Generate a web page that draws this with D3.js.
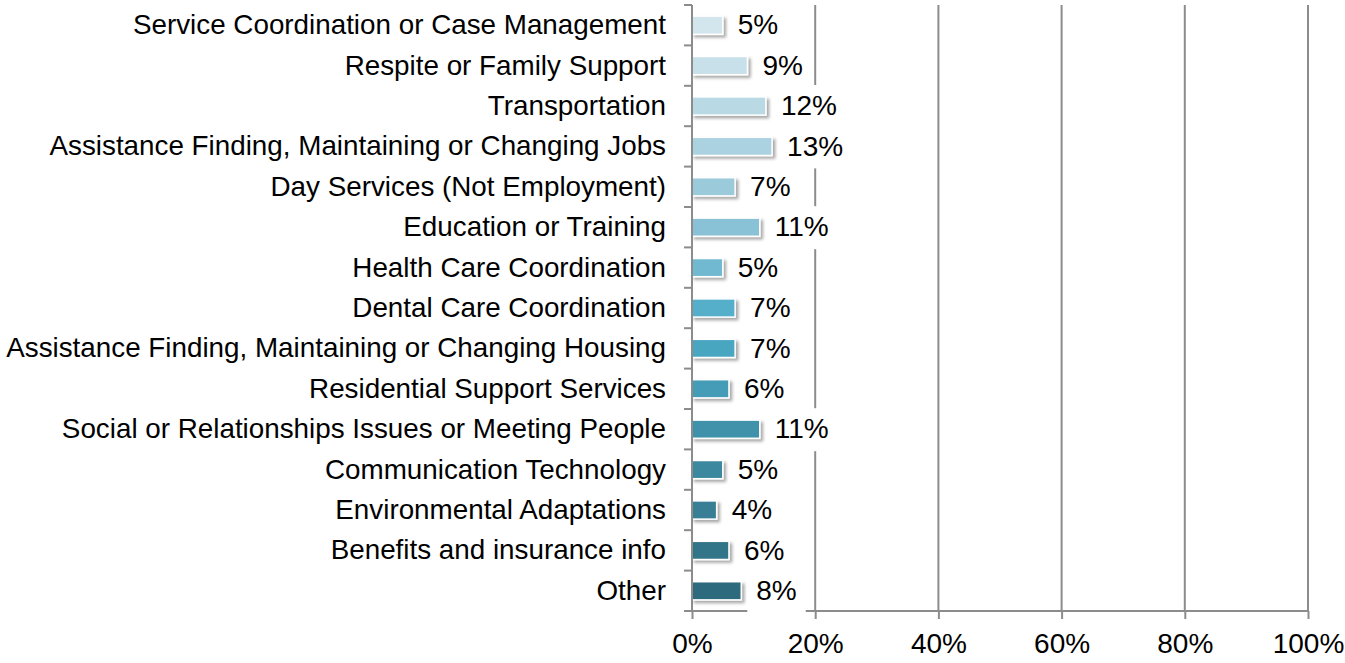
<!DOCTYPE html>
<html>
<head>
<meta charset="utf-8">
<script src="https://cdn.jsdelivr.net/npm/d3@7"></script>
<style>
  html, body { margin: 0; padding: 0; background: #fff; }
  svg { display: block; font-family: "Liberation Sans", Arial, sans-serif; }
</style>
</head>
<body>
<svg id="chart" width="1345" height="663"></svg>
<script>
// Services requested (share of respondents), top to bottom
const categories = [
  "Service Coordination or Case Management",
  "Respite or Family Support",
  "Transportation",
  "Assistance Finding, Maintaining or Changing Jobs",
  "Day Services (Not Employment)",
  "Education or Training",
  "Health Care Coordination",
  "Dental Care Coordination",
  "Assistance Finding, Maintaining or Changing Housing",
  "Residential Support Services",
  "Social or Relationships Issues or Meeting People",
  "Communication Technology",
  "Environmental Adaptations",
  "Benefits and insurance info",
  "Other"
];
const values = [5, 9, 12, 13, 7, 11, 5, 7, 7, 6, 11, 5, 4, 6, 8];
const xTicks = [0, 20, 40, 60, 80, 100];

// Light-to-dark teal ramp, one shade per bar
const palette = [
  "#d3e6ed", "#c7e0e9", "#b9d9e5", "#aad2e1", "#9bcadb",
  "#89c2d6", "#70b9d1", "#55afca", "#4aa6c1", "#449cb6",
  "#3f92aa", "#3b889f", "#377e94", "#337589", "#2f6b7e"
];

const svg = d3.select("#chart");
const plotL = 692, plotR = 1308, plotT = 5, plotB = 611;
const fontSize = 28;

const x = d3.scaleLinear().domain([0, 100]).range([plotL, plotR]);
const y = d3.scaleBand().domain(categories).range([plotT, plotB])
  .paddingInner(0.55).paddingOuter(0.275);

// drop shadow for bars
const defs = svg.append("defs");
const f = defs.append("filter").attr("id", "shadow")
  .attr("x", "-20%").attr("y", "-50%").attr("width", "160%").attr("height", "250%");
f.append("feDropShadow").attr("dx", 2.5).attr("dy", 2.5).attr("stdDeviation", 1.6)
  .attr("flood-color", "#000").attr("flood-opacity", 0.35);

const gridColor = "#8c8c8c";

// vertical gridlines (skip 0, the axis covers it)
svg.append("g").selectAll("line").data(xTicks.filter(d => d > 0)).join("line")
  .attr("x1", d => x(d)).attr("x2", d => x(d))
  .attr("y1", plotT).attr("y2", plotB)
  .attr("stroke", gridColor).attr("stroke-width", 2);

// bottom axis
const xAxis = d3.axisBottom(x).tickValues(xTicks).tickFormat(d => d + "%")
  .tickSize(8).tickSizeOuter(0).tickPadding(14);
const gx = svg.append("g").attr("transform", `translate(0,${plotB})`).call(xAxis);
gx.select(".domain").attr("stroke", gridColor).attr("stroke-width", 2)
  .attr("d", `M${plotL - 8},0H${plotR}`);
gx.selectAll(".tick line").attr("stroke", gridColor).attr("stroke-width", 2);
gx.selectAll(".tick text").attr("fill", "#000").attr("font-size", fontSize)
  .attr("font-family", "Liberation Sans, Arial, sans-serif");

// bars
svg.append("g").selectAll("rect").data(categories).join("rect")
  .attr("x", x(0))
  .attr("y", d => y(d))
  .attr("width", (d, i) => x(values[i]) - x(0))
  .attr("height", y.bandwidth())
  .attr("fill", (d, i) => palette[i])
  .attr("stroke", "#fff").attr("stroke-width", 1.5)
  .attr("filter", "url(#shadow)");

// value labels with white boxes
const lab = svg.append("g").selectAll("g").data(categories).join("g")
  .attr("transform", (d, i) => `translate(${x(values[i]) + 15},${y(d) + y.bandwidth() / 2})`);
lab.append("rect").attr("class", "bg");
lab.append("text")
  .attr("dy", "0.33em")
  .attr("font-size", fontSize).attr("fill", "#000")
  .text((d, i) => values[i] + "%");
lab.each(function () {
  const g = d3.select(this);
  const w = g.select("text").node().getComputedTextLength();
  g.select("rect.bg").attr("x", -9).attr("y", -21).attr("width", w + 18).attr("height", 43)
    .attr("fill", "#fff");
});

// left axis
const yAxis = d3.axisLeft(y).tickSize(0).tickPadding(26);
const gy = svg.append("g").attr("transform", `translate(${plotL},0)`).call(yAxis);
gy.select(".domain").attr("stroke", gridColor).attr("stroke-width", 2)
  .attr("d", `M0,${plotT}V${plotB}`);
gy.selectAll(".tick text").attr("fill", "#000").attr("font-size", 27.8)
  .attr("dy", "0.32em")
  .attr("font-family", "Liberation Sans, Arial, sans-serif");

// category separator ticks
const bounds = d3.range(categories.length + 1).map(i => plotT + i * y.step());
svg.append("g").selectAll("line").data(bounds).join("line")
  .attr("x1", plotL - 8).attr("x2", plotL)
  .attr("y1", d => d).attr("y2", d => d)
  .attr("stroke", gridColor).attr("stroke-width", 2);
</script>
</body>
</html>
